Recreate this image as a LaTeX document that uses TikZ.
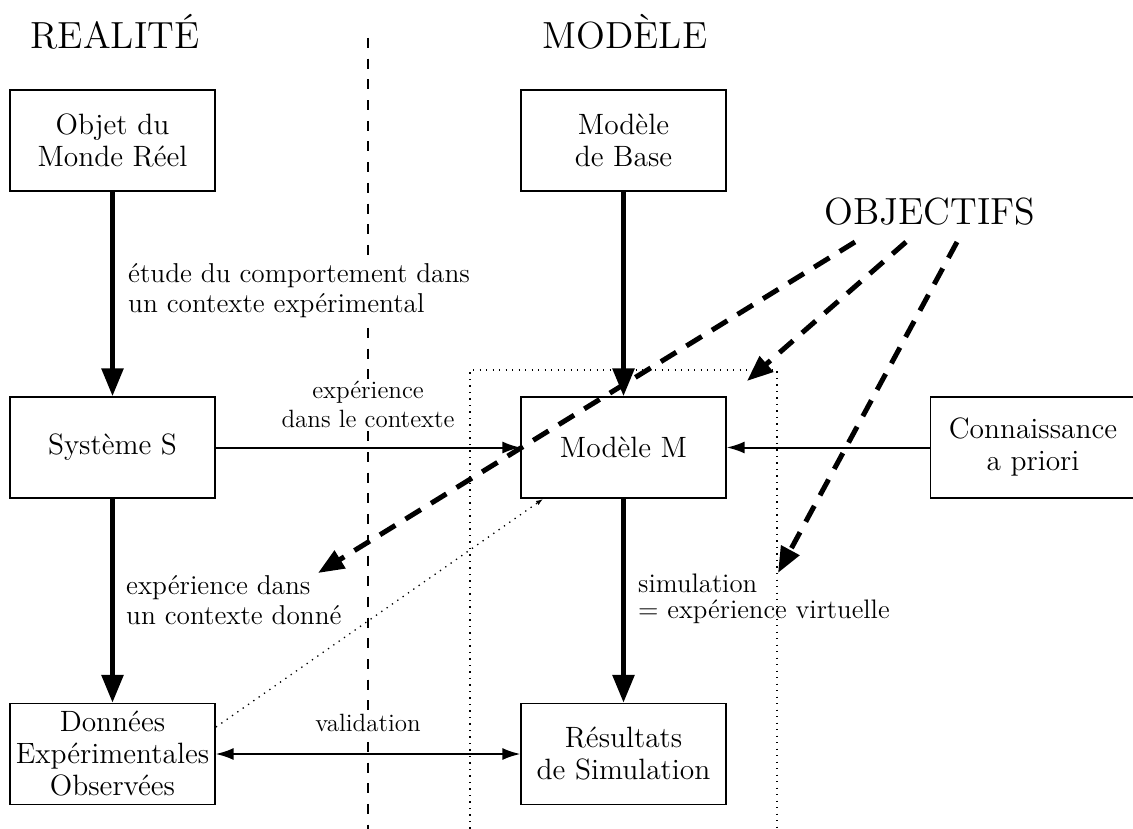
\documentclass[tikz,border=0pt]{standalone}
\usepackage{fontspec}
\usetikzlibrary{arrows.meta}
\newfontfamily\lmtwelve{lmroman12-regular.otf}
\newcommand\titlefont{\lmtwelve\fontsize{37.8pt}{44pt}\selectfont}
\newcommand\boxfont{\lmtwelve\fontsize{29.4pt}{32pt}\selectfont}
\newcommand\labfont{\lmtwelve\fontsize{27.3pt}{30pt}\selectfont}
\newcommand\simfont{\lmtwelve\fontsize{26.8pt}{26.7pt}\selectfont}
\newcommand\smallfont{\lmtwelve\fontsize{25pt}{29pt}\selectfont}
\begin{document}
\begin{tikzpicture}[x=1pt,y=-1pt,
  box/.style={draw, line width=1.2pt, minimum width=205pt, minimum height=101pt,
    inner sep=0pt, align=center, font=\boxfont},
  heavy arrow/.style={line width=5.5pt, -{Triangle[length=28pt,width=21pt]}},
  light arrow/.style={line width=2pt, -{Latex[length=18pt,width=12pt]}},
  goal arrow/.style={line width=5pt, dash pattern=on 18pt off 12pt,
    -{Triangle[length=26pt,width=20pt]}},
  divider/.style={line width=1.3pt, dash pattern=on 10pt off 10.7pt},
  frame/.style={line width=1.3pt, dash pattern=on 1.3pt off 5.2pt},
  lab/.style={inner sep=0pt, align=left, font=\labfont, anchor=west},
  title/.style={font=\titlefont, anchor=base, inner sep=0pt},
]
\useasboundingbox (0,0) rectangle (1133,829);
\fill[white] (0,0) rectangle (1133,829);

% separation between reality and model
\coordinate (dtop) at (368,38);
\coordinate (dbot) at (368,835);
\draw[divider] (dtop) -- (dbot);

% frame around the model side
\coordinate (fbl) at (470,835);
\coordinate (ftl) at (470,370);
\coordinate (ftr) at (777,370);
\coordinate (fbr) at (777,835);
\draw[frame] (fbl) -- (ftl) -- (ftr) -- (fbr);

% headings
\node[title] (realite) at (115,49) {REALITÉ};
\node[title] (modele) at (625,49) {MODÈLE};
\node[title] (objectifs) at (930,225) {OBJECTIFS};

% boxes
\node[box] (objet) at (112.5,140.5) {Objet du\\Monde Réel};
\node[box] (base) at (623.5,140.5) {Modèle\\de Base};
\node[box] (sys) at (112.5,447.5) {Système S};
\node[box] (modm) at (623.5,447.5) {Modèle M};
\node[box] (conn) at (1033,447.5) {Connaissance\\a priori};
\node[box] (donnees) at (112.5,754) {Données\\Expérimentales\\Observées};
\node[box] (result) at (623.5,754) {Résultats\\de Simulation};

% labels
\node[lab, fill=white, inner sep=2pt] (etude) at (126,291) {étude du comportement dans\\un contexte expérimental};
\node[lab] (expdonne) at (126,600.5) {expérience dans\\un contexte donné};
\node[lab, font=\simfont] (simul) at (638,598.7) {simulation\\= expérience virtuelle};
\node[font=\smallfont, fill=white, inner sep=1pt, align=center] (expctx) at (368,404) {expérience\\dans le contexte};
\node[font=\smallfont, fill=white, inner sep=1pt] (valid) at (368,723) {validation};

% main flow
\draw[heavy arrow] (objet.south) -- (sys.north);
\draw[heavy arrow] (base.south) -- (modm.north);
\draw[heavy arrow] (sys.south) -- (donnees.north);
\draw[heavy arrow] (modm.south) -- (result.north);
\draw[light arrow] (sys.east) -- (modm.west);
\draw[light arrow] (conn.west) -- (modm.east);
\draw[line width=2pt, {Latex[length=18pt,width=12pt]}-{Latex[length=18pt,width=12pt]}] (donnees.east) -- (result.west);

% link between observed data and the model
\coordinate (vfrom) at (216,727);
\coordinate (vto) at (543,499);
\draw[frame, -{Latex[length=7pt,width=5pt]}] (vfrom) -- (vto);

% objectives
\coordinate (g1s) at (855,242);
\coordinate (g1e) at (318,573);
\coordinate (g2s) at (906,242);
\coordinate (g2e) at (747,381);
\coordinate (g3s) at (957,242);
\coordinate (g3e) at (778,573);
\draw[goal arrow] (g1s) -- (g1e);
\draw[goal arrow] (g2s) -- (g2e);
\draw[goal arrow] (g3s) -- (g3e);
\end{tikzpicture}
\end{document}
